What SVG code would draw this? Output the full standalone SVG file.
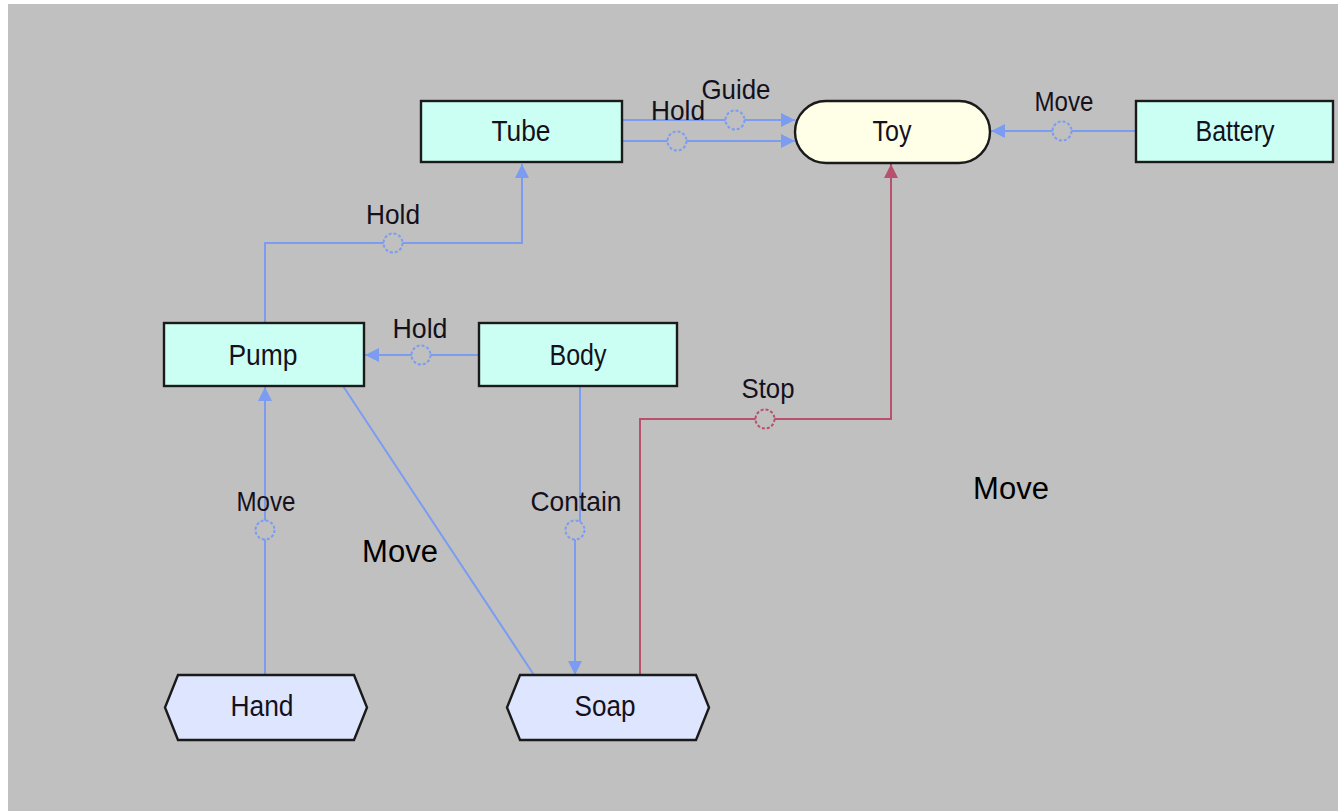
<svg xmlns="http://www.w3.org/2000/svg" width="1338" height="811" viewBox="0 0 1338 811">
<style>
.bg{fill:#c0c0c0}
.box{fill:#ccfff4;stroke:#1a1a1a;stroke-width:2.4}
.toy{fill:#ffffe8;stroke:#1a1a1a;stroke-width:2.4}
.hex{fill:#dde5ff;stroke:#1a1a1a;stroke-width:2.4}
.nl{font-family:"Liberation Sans",Arial,sans-serif;font-size:29px;fill:#14101c;text-anchor:middle}
.el{font-family:"Liberation Sans",Arial,sans-serif;font-size:28px;fill:#14101c;text-anchor:middle}
.big{font-family:"Liberation Sans",Arial,sans-serif;font-size:31px;fill:#000;text-anchor:middle}
.b{fill:none;stroke:#7b9cf0;stroke-width:2}
.r{fill:none;stroke:#b8506e;stroke-width:2}
.cb{fill:#c0c0c0;stroke:#7b9cf0;stroke-width:2;stroke-dasharray:3 2}
.cr{fill:#c0c0c0;stroke:#b8506e;stroke-width:2;stroke-dasharray:3 2}
</style>
<defs>
<marker id="ab" markerWidth="14" markerHeight="14" refX="14" refY="7" orient="auto" markerUnits="userSpaceOnUse"><path d="M0,0 L14,7 L0,14 Z" fill="#7b9cf0"/></marker>
<marker id="ar" markerWidth="14" markerHeight="14" refX="14" refY="7" orient="auto" markerUnits="userSpaceOnUse"><path d="M0,0 L14,7 L0,14 Z" fill="#b8506e"/></marker>
</defs>
<rect x="0" y="0" width="1338" height="811" fill="#ffffff"/>
<rect class="bg" x="8" y="4" width="1330" height="807"/>

<g id="connectors">
  <g id="e-guide">
    <line class="b" x1="622" y1="120" x2="795" y2="120" marker-end="url(#ab)"/>
    <circle class="cb" cx="735" cy="120" r="9.5"/>
    <text class="el" x="736" y="99" textLength="69" lengthAdjust="spacingAndGlyphs">Guide</text>
  </g>
  <g id="e-hold-tube-toy">
    <line class="b" x1="622" y1="141" x2="795" y2="141" marker-end="url(#ab)"/>
    <circle class="cb" cx="677" cy="141" r="9.5"/>
    <text class="el" x="678" y="120" textLength="54" lengthAdjust="spacingAndGlyphs">Hold</text>
  </g>
  <g id="e-move-battery-toy">
    <line class="b" x1="1136" y1="131" x2="991" y2="131" marker-end="url(#ab)"/>
    <circle class="cb" cx="1062" cy="131" r="9.5"/>
    <text class="el" x="1064" y="111" textLength="59" lengthAdjust="spacingAndGlyphs">Move</text>
  </g>
  <g id="e-hold-pump-tube">
    <polyline class="b" points="265,323 265,243 522,243 522,164" marker-end="url(#ab)"/>
    <circle class="cb" cx="393" cy="243" r="9.5"/>
    <text class="el" x="393" y="224" textLength="54" lengthAdjust="spacingAndGlyphs">Hold</text>
  </g>
  <g id="e-hold-body-pump">
    <line class="b" x1="479" y1="355" x2="365" y2="355" marker-end="url(#ab)"/>
    <circle class="cb" cx="421" cy="355" r="9.5"/>
    <text class="el" x="420" y="338" textLength="55" lengthAdjust="spacingAndGlyphs">Hold</text>
  </g>
  <g id="e-move-hand-pump">
    <line class="b" x1="265" y1="675" x2="265" y2="387" marker-end="url(#ab)"/>
    <circle class="cb" cx="265" cy="530" r="9.5"/>
    <text class="el" x="266" y="511" textLength="59" lengthAdjust="spacingAndGlyphs">Move</text>
  </g>
  <g id="e-pump-soap">
    <line class="b" x1="343" y1="386" x2="534" y2="675" stroke-width="1.6"/>
  </g>
  <g id="e-contain">
    <line class="b" x1="580" y1="386" x2="580" y2="522"/>
    <line class="b" x1="575" y1="538" x2="575" y2="675" marker-end="url(#ab)"/>
    <circle class="cb" cx="575" cy="530" r="9.5"/>
    <text class="el" x="576" y="511" textLength="91" lengthAdjust="spacingAndGlyphs">Contain</text>
  </g>
  <g id="e-stop">
    <polyline class="r" points="640,675 640,419 891,419 891,164" marker-end="url(#ar)"/>
    <circle class="cr" cx="765" cy="419" r="9.5"/>
    <text class="el" x="768" y="398" textLength="53" lengthAdjust="spacingAndGlyphs">Stop</text>
  </g>
</g>

<g id="n-tube">
  <rect class="box" x="421" y="101" width="201" height="61"/>
  <text class="nl" x="521" y="141" textLength="59" lengthAdjust="spacingAndGlyphs">Tube</text>
</g>
<g id="n-toy">
  <rect class="toy" x="795" y="101" width="195" height="62" rx="31" ry="31"/>
  <text class="nl" x="892" y="141" textLength="39" lengthAdjust="spacingAndGlyphs">Toy</text>
</g>
<g id="n-battery">
  <rect class="box" x="1136" y="101" width="197" height="61"/>
  <text class="nl" x="1235" y="141" textLength="79" lengthAdjust="spacingAndGlyphs">Battery</text>
</g>
<g id="n-pump">
  <rect class="box" x="164" y="323" width="200" height="63"/>
  <text class="nl" x="263" y="365" textLength="69" lengthAdjust="spacingAndGlyphs">Pump</text>
</g>
<g id="n-body">
  <rect class="box" x="479" y="323" width="198" height="63"/>
  <text class="nl" x="578" y="365" textLength="57" lengthAdjust="spacingAndGlyphs">Body</text>
</g>
<g id="n-hand">
  <polygon class="hex" points="178,675 354,675 367,707.5 354,740 178,740 165,707.5"/>
  <text class="nl" x="262" y="716" textLength="63" lengthAdjust="spacingAndGlyphs">Hand</text>
</g>
<g id="n-soap">
  <polygon class="hex" points="520,675 696,675 709,707.5 696,740 520,740 507,707.5"/>
  <text class="nl" x="605" y="716" textLength="61" lengthAdjust="spacingAndGlyphs">Soap</text>
</g>

<text class="big" x="400" y="562">Move</text>
<text class="big" x="1011" y="499">Move</text>
</svg>
